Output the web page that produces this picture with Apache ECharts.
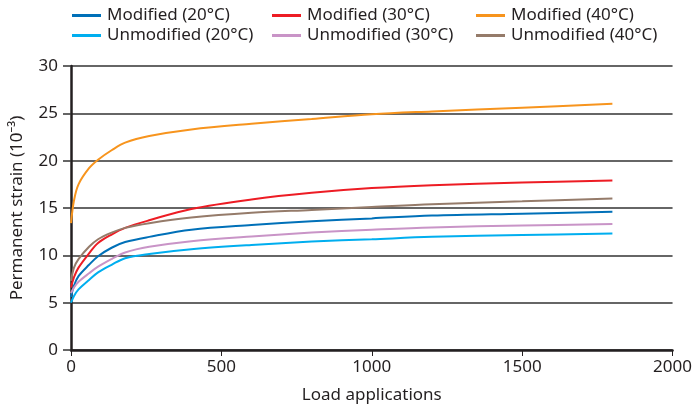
<!DOCTYPE html>
<html>
<head>
<meta charset="utf-8">
<script src="https://cdn.jsdelivr.net/npm/echarts@6/dist/echarts.min.js"></script>
<style>html,body{margin:0;padding:0;background:#fff}#c{width:695px;height:413px}</style>
</head>
<body>
<div id="c"></div>
<script>
var loads = [0, 10, 25, 60, 90, 135, 180, 260, 400, 600, 800, 1000, 1200, 1500, 1800];
var modified20   = [5.6, 6.8, 7.8, 9.0, 9.9, 10.8, 11.4, 11.95, 12.7, 13.2, 13.6, 13.9, 14.2, 14.4, 14.6];
var unmodified20 = [5.0, 5.7, 6.4, 7.4, 8.2, 9.0, 9.7, 10.15, 10.65, 11.1, 11.45, 11.7, 11.95, 12.15, 12.3];
var modified30   = [6.6, 7.7, 8.7, 10.2, 11.3, 12.2, 12.9, 13.7, 14.9, 15.9, 16.6, 17.1, 17.4, 17.7, 17.9];
var unmodified30 = [6.0, 6.6, 7.2, 8.1, 8.8, 9.6, 10.3, 10.9, 11.5, 12.0, 12.4, 12.7, 12.95, 13.15, 13.3];
var modified40   = [13.4, 15.8, 17.5, 19.2, 20.1, 21.1, 21.9, 22.6, 23.3, 23.9, 24.4, 24.9, 25.2, 25.6, 26.0];
var unmodified40 = [7.3, 8.7, 9.6, 10.9, 11.7, 12.4, 12.9, 13.4, 14.0, 14.5, 14.8, 15.1, 15.4, 15.7, 16.0];
var seriesNames = ['Modified (20°C)', 'Unmodified (20°C)', 'Modified (30°C)', 'Unmodified (30°C)', 'Modified (40°C)', 'Unmodified (40°C)'];
var xTicks = [0, 500, 1000, 1500, 2000];
var yTicks = [0, 5, 10, 15, 20, 25, 30];

var colors = ['#0070b8', '#00aeef', '#ed1c24', '#c994c7', '#f7941d', '#957b6a'];
var dataSets = [modified20, unmodified20, modified30, unmodified30, modified40, unmodified40];
var FONT = 'Noto Sans';
var textColor = '#231f20';

function pairs(arr) { return loads.map(function (x, i) { return [x, arr[i]]; }); }

var series = dataSets.map(function (d, i) {
  return {
    name: seriesNames[i], type: 'line', data: pairs(d), smooth: 0.35,
    showSymbol: false, symbol: 'none', lineStyle: { color: colors[i], width: 2 },
    itemStyle: { color: colors[i] }, z: 3
  };
});

function legendCol(left, names) {
  return {
    orient: 'vertical', left: left, top: 5.5, padding: 0, icon: 'rect', itemWidth: 29, itemHeight: 3,
    itemGap: 0, data: names,
    textStyle: { fontFamily: FONT, fontSize: 17, color: textColor, lineHeight: 20, padding: [0, 0, 0, 1] }
  };
}

var chart = echarts.init(document.getElementById('c'), null, { renderer: 'canvas' });
chart.setOption({
  animation: false,
  backgroundColor: '#fff',
  color: colors,
  legend: [
    legendCol(72, [seriesNames[0], seriesNames[1]]),
    legendCol(272, [seriesNames[2], seriesNames[3]]),
    legendCol(476, [seriesNames[4], seriesNames[5]])
  ],
  grid: { left: 71, right: 20, top: 66, bottom: 63, containLabel: false },
  xAxis: {
    type: 'value', min: xTicks[0], max: xTicks[xTicks.length - 1], interval: 500,
    name: 'Load applications', nameLocation: 'middle', nameGap: 37,
    nameTextStyle: { fontFamily: FONT, fontSize: 17, color: textColor },
    axisLine: { show: true, lineStyle: { color: '#231f20', width: 2.5 } },
    axisTick: { show: true, length: 6, lineStyle: { color: '#231f20', width: 1 } },
    axisLabel: { fontFamily: FONT, fontSize: 17, color: textColor, margin: 9,
      formatter: function (v) { return String(v); } },
    splitLine: { show: false }
  },
  yAxis: {
    type: 'value', min: yTicks[0], max: yTicks[yTicks.length - 1], interval: 5,
    name: 'Permanent strain (10⁻³)', nameLocation: 'middle', nameGap: 45, nameRotate: 90,
    nameTextStyle: { fontFamily: FONT, fontSize: 17, color: textColor },
    axisLine: { show: true, lineStyle: { color: '#231f20', width: 2.5 } },
    axisTick: { show: true, length: 8, lineStyle: { color: '#333', width: 1.5 } },
    axisLabel: { fontFamily: FONT, fontSize: 17, color: textColor, margin: 13,
      formatter: function (v) { return String(v); } },
    splitLine: { show: true, lineStyle: { color: '#333', width: 1.5 } }
  },
  series: series
});
</script>
</body>
</html>
